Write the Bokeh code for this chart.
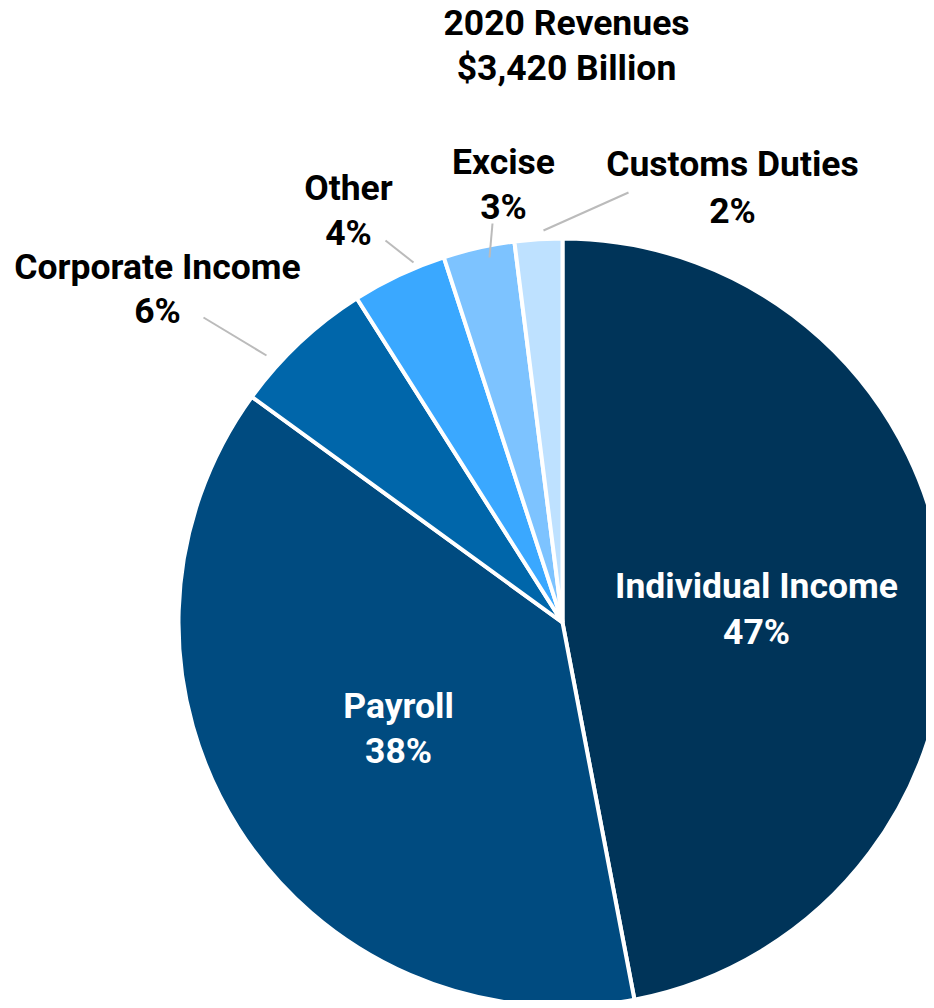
import math
from bokeh.plotting import figure
from bokeh.models import ColumnDataSource
from bokeh.core.properties import value
from bokeh.embed import file_html
from bokeh.resources import INLINE

# ---- data ----
categories = ["Individual Income", "Payroll", "Corporate Income", "Other", "Excise", "Customs Duties"]
shares = [47, 38, 6, 4, 3, 2]
colors = ["#003459", "#004b80", "#0066aa", "#3aa8ff", "#7dc3ff", "#bee1ff"]
title_lines = ["2020 Revenues", "$3,420 Billion"]

# ---- layout (positions given in picture pixels from top-left) ----
W, H = 926, 1000
FONT = "Roboto"
FS = "35.5px"
CX, CY, R = 562, 622, 384
name_pos = [(756, 585), (398, 705), (157, 266), (348, 187), (503, 161), (732, 163)]
pct_pos = [(756, 631), (398, 750), (157, 310), (348, 232), (503, 206), (732, 210)]
label_color = ["white", "white", "black", "black", "black", "black"]
leaders = [((203, 317), (266, 355)), ((385, 240), (413, 262)),
           ((492, 223), (489, 257)), ((628, 192), (543, 230))]
title_pos = [(566, 22), (566, 67)]


def fy(sy):
    return H - sy


total = sum(shares)
starts, ends = [], []
cum = 0
for s in shares:
    starts.append(math.pi / 2 - 2 * math.pi * cum / total)
    cum += s
    ends.append(math.pi / 2 - 2 * math.pi * cum / total)

p = figure(width=W, height=H, x_range=(0, W), y_range=(0, H),
           output_backend="svg", toolbar_location=None,
           x_axis_location=None, y_axis_location=None, min_border=0)
p.grid.visible = False
p.outline_line_color = None
p.background_fill_color = "white"

src = ColumnDataSource(dict(start=starts, end=ends, color=colors, cat=categories))
p.wedge(x=CX, y=fy(CY), radius=R, start_angle="start", end_angle="end", direction="clock",
        fill_color="color", line_color="white", line_width=4, source=src)

for a, b in leaders:
    p.line([a[0], b[0]], [fy(a[1]), fy(b[1])], line_color="#bbbbbb", line_width=2)

lab = ColumnDataSource(dict(
    x=[q[0] for q in name_pos], y=[fy(q[1]) for q in name_pos],
    x2=[q[0] for q in pct_pos], y2=[fy(q[1]) for q in pct_pos],
    name=categories, pct=[f"{s}%" for s in shares], color=label_color))
for xc, yc, col in (("x", "y", "name"), ("x2", "y2", "pct")):
    p.text(x=xc, y=yc, text=col, text_color="color", source=lab,
           text_font=value(FONT), text_font_style="bold", text_font_size=FS,
           text_align="center", text_baseline="middle")

p.text(x=[q[0] for q in title_pos], y=[fy(q[1]) for q in title_pos], text=title_lines,
       text_color="black", text_font=value(FONT), text_font_style="bold", text_font_size=FS,
       text_align="center", text_baseline="middle")

open("out.html", "w").write(file_html(p, INLINE))
